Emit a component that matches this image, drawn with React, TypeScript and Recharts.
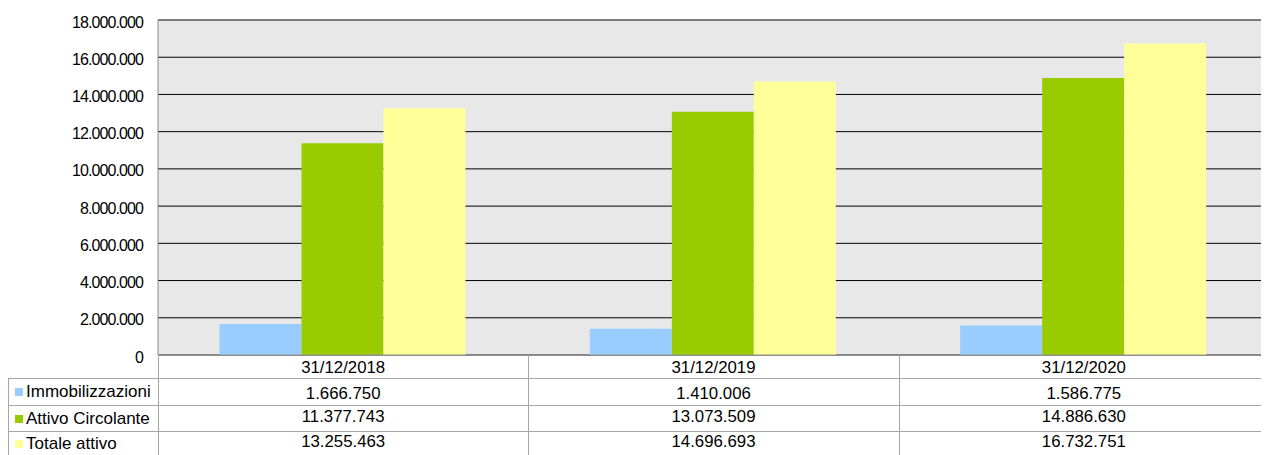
import React from "react";
import { Bar, BarChart, CartesianGrid, XAxis, YAxis } from "recharts";

const categories = ["31/12/2018", "31/12/2019", "31/12/2020"];
const seriesNames = ["Immobilizzazioni", "Attivo Circolante", "Totale attivo"];
const immobilizzazioni = [1666750, 1410006, 1586775];
const attivoCircolante = [11377743, 13073509, 14886630];
const totaleAttivo = [13255463, 14696693, 16732751];
const yTicks = [0, 2000000, 4000000, 6000000, 8000000, 10000000, 12000000, 14000000, 16000000, 18000000];

const colors = ["#99ccff", "#99cc00", "#ffff99"];

const data = categories.map((date, i) => ({
  date,
  imm: immobilizzazioni[i],
  att: attivoCircolante[i],
  tot: totaleAttivo[i],
}));

function dots(v: number) {
  return String(Math.round(v)).replace(/\B(?=(\d{3})+(?!\d))/g, ".");
}

const FONT = '"Liberation Sans", Arial, sans-serif';
const LINE = "#a6a6a6";
const TABLE_FS = 16.8;

function YTick(props: any) {
  const { x, y, payload } = props;
  return (
    <text x={x} y={y + 2} textAnchor="end" dominantBaseline="central" fontSize={16} letterSpacing={-0.9} fill="#000" fontFamily={FONT}>
      {dots(payload.value)}
    </text>
  );
}

function rowTick(values: string[], offset: number) {
  return (props: any) => {
    const { x, y, index } = props;
    return (
      <text x={x} y={y + offset} textAnchor="middle" dominantBaseline="central" fontSize={TABLE_FS} fill="#000" fontFamily={FONT}>
        {values[index]}
      </text>
    );
  };
}

// table rows: y positions of horizontal rules
const rowTops = [378, 405, 431];

export default function App() {
  return (
    <div style={{ position: "relative", width: 1269, height: 455, marginLeft: -8, marginTop: -8, fontFamily: FONT }}>
      <BarChart
        width={1269}
        height={455}
        data={data}
        margin={{ top: 20, right: 0, left: 0, bottom: 0 }}
        barCategoryGap="16.6%"
        barGap={0}
      >
        <CartesianGrid stroke="#000" vertical={false} fill="#e8e8e8" fillOpacity={1} />
        <YAxis
          width={158}
          domain={[0, 18000000]}
          ticks={yTicks}
          interval={0}
          tick={YTick}
          tickLine={false}
          tickSize={0}
          tickMargin={15}
          axisLine={{ stroke: "#8a8a8a" }}
        />
        <XAxis xAxisId="head" dataKey="date" height={23} tickLine={false} tickSize={0} tickMargin={0} axisLine={{ stroke: "#9a9a9a" }} interval={0} tick={rowTick(categories, 12.5)} />
        <XAxis xAxisId="r1" dataKey="date" height={27} tickLine={false} tickSize={0} tickMargin={0} axisLine={false} interval={0} tick={rowTick(immobilizzazioni.map(dots), 15)} />
        <XAxis xAxisId="r2" dataKey="date" height={26} tickLine={false} tickSize={0} tickMargin={0} axisLine={false} interval={0} tick={rowTick(attivoCircolante.map(dots), 11)} />
        <XAxis xAxisId="r3" dataKey="date" height={24} tickLine={false} tickSize={0} tickMargin={0} axisLine={false} interval={0} tick={rowTick(totaleAttivo.map(dots), 10)} />
        <Bar xAxisId="head" dataKey="imm" name={seriesNames[0]} fill={colors[0]} isAnimationActive={false} />
        <Bar xAxisId="head" dataKey="att" name={seriesNames[1]} fill={colors[1]} isAnimationActive={false} />
        <Bar xAxisId="head" dataKey="tot" name={seriesNames[2]} fill={colors[2]} isAnimationActive={false} />
      </BarChart>

      {/* data table rules */}
      {rowTops.map((t) => (
        <div key={t} style={{ position: "absolute", left: 8, top: t, width: 1261, height: 1, background: LINE }} />
      ))}
      <div style={{ position: "absolute", left: 8, top: 378, width: 1, height: 77, background: LINE }} />
      <div style={{ position: "absolute", left: 158, top: 355, width: 1, height: 100, background: LINE }} />
      <div style={{ position: "absolute", left: 528, top: 355, width: 1, height: 100, background: LINE }} />
      <div style={{ position: "absolute", left: 899, top: 355, width: 1, height: 100, background: LINE }} />

      {/* row headers with legend keys */}
      {seriesNames.map((name, i) => {
        const top = rowTops[i];
        const h = [27, 26, 24][i];
        return (
          <div
            key={name}
            style={{ position: "absolute", left: 9, top: top + 1, width: 149, height: h - 1, display: "flex", alignItems: "center", fontSize: 17, color: "#000", whiteSpace: "nowrap" }}
          >
            <span style={{ display: "inline-block", width: 8, height: 8, background: colors[i], marginLeft: 6, marginRight: 3 }} />
            <span>{name}</span>
          </div>
        );
      })}
    </div>
  );
}
